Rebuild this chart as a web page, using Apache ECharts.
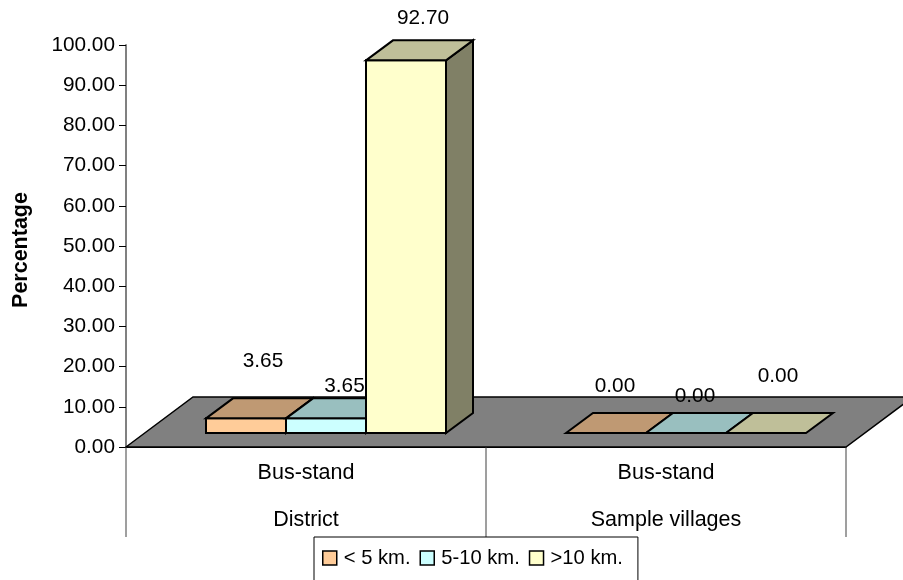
<!DOCTYPE html>
<html>
<head>
<meta charset="utf-8">
<style>
  html, body { margin: 0; padding: 0; background: #fff; }
  #main { width: 903px; height: 580px; }
</style>
<script src="https://cdn.jsdelivr.net/npm/echarts@6/dist/echarts.min.js"></script>
</head>
<body>
<div id="main"></div>
<script>
  // values
  const categories = ['Bus-stand', 'Bus-stand']
  const groups = ['District', 'Sample villages']
  const yTicks = [0, 100, 10]
  const near = [3.65, 0]
  const mid = [3.65, 0]
  const far = [92.7, 0]
  const seriesNames = ['< 5 km.', '5-10 km.', '>10 km.']

  const FONT = '"Liberation Sans", Arial, sans-serif'
  const TEXT = '#000'
  // fake 3d, all in pixels
  const FLOOR_DX = 67
  const FLOOR_DY = -50
  const BAR_W = 80
  const BAR_SHIFT_X = 20 // bars stand a bit into the floor
  const BAR_SHIFT_Y = -14
  const BAR_DX = 27
  const BAR_DY = -20
  // the data labels were dragged around by hand in the original: [series][category]
  const labelNudge = [
    [[3.5, -37], [-4.5, -27]],
    [[5, -12], [-4.5, -17]],
    [[3.5, -22], [-1.5, -37]]
  ]

  const fronts = ['#FFCC99', '#CCFFFF', '#FFFFCC']
  const tops = ['#BF9973', '#99BFBF', '#BFBF99']
  const sides = ['#806650', '#668080', '#808066']

  function poly(points, fill) {
    return {
      type: 'polygon',
      shape: { points: points },
      style: { fill: fill, stroke: '#000', lineWidth: 2, lineJoin: 'miter' }
    }
  }

  function renderBar(s, params, api) {
    const c = api.value(0)
    const v = api.value(1)
    const base = api.coord([c, 0])
    const top = api.coord([c, v])
    const xl = base[0] - 1.5 * BAR_W + s * BAR_W + BAR_SHIFT_X
    const xr = xl + BAR_W
    const y0 = base[1] + BAR_SHIFT_Y
    const y1 = top[1] + BAR_SHIFT_Y
    const children = []
    if (v > 0) {
      children.push(poly([[xr, y1], [xr + BAR_DX, y1 + BAR_DY], [xr + BAR_DX, y0 + BAR_DY], [xr, y0]], sides[s]))
      children.push(poly([[xl, y1], [xr, y1], [xr, y0], [xl, y0]], fronts[s]))
    }
    children.push(poly([[xl, y1], [xl + BAR_DX, y1 + BAR_DY], [xr + BAR_DX, y1 + BAR_DY], [xr, y1]], tops[s]))
    const nudge = labelNudge[s][c]
    children.push({
      type: 'text',
      style: {
        x: (xl + xr + BAR_DX) / 2 + nudge[0],
        y: y1 + BAR_DY + nudge[1],
        text: v.toFixed(2),
        font: '20.8px ' + FONT,
        fill: TEXT,
        align: 'center',
        verticalAlign: 'middle'
      }
    })
    return { type: 'group', children: children }
  }

  function renderFloor(params, api) {
    const a = api.coord([0, 0])
    const b = api.coord([1, 0])
    const band = api.size([1, 0])[0]
    const xl = a[0] - band / 2
    const xr = b[0] + band / 2
    const y = a[1]
    return {
      type: 'polygon',
      shape: { points: [[xl, y], [xl + FLOOR_DX, y + FLOOR_DY], [xr + FLOOR_DX, y + FLOOR_DY], [xr, y]] },
      style: { fill: '#808080', stroke: '#000', lineWidth: 1.5 }
    }
  }

  function barSeries(s, values) {
    return {
      name: seriesNames[s],
      type: 'custom',
      coordinateSystem: 'cartesian2d',
      clip: false,
      renderItem: function(params, api) { return renderBar(s, params, api) },
      encode: { x: 0, y: 1 },
      data: values.map((v, i) => [i, v]),
      itemStyle: { color: fronts[s], borderColor: '#000', borderWidth: 1.5 },
      z: 3
    }
  }

  const chart = echarts.init(document.getElementById('main'), null, { renderer: 'canvas' })
  chart.setOption({
    animation: false,
    backgroundColor: '#fff',
    textStyle: { fontFamily: FONT, color: TEXT },
    grid: { left: 126, right: 57, top: 45, bottom: 133 },
    legend: {
      left: 314,
      top: 537,
      itemWidth: 14,
      itemHeight: 14,
      itemGap: 9,
      padding: [11, 15, 30, 8],
      borderColor: '#000',
      borderWidth: 1,
      backgroundColor: '#fff',
      textStyle: { fontFamily: FONT, fontSize: 20.2, color: TEXT, padding: [0, 0, 0, 2] },
      data: seriesNames,
      icon: 'rect',
      itemStyle: { borderColor: '#000', borderWidth: 1.5 }
    },
    xAxis: {
      type: 'category',
      data: categories,
      axisLine: { lineStyle: { color: '#000', width: 1 } },
      axisTick: { show: true, length: 90, lineStyle: { color: '#808080', width: 1.5 } },
      axisLabel: {
        interval: 0,
        margin: 3,
        fontSize: 21.5,
        fontFamily: FONT,
        color: TEXT,
        lineHeight: 47,
        formatter: (v, i) => v + '\n' + groups[i]
      }
    },
    yAxis: {
      type: 'value',
      min: yTicks[0],
      max: yTicks[1],
      interval: yTicks[2],
      axisLine: { show: true, lineStyle: { color: '#808080', width: 2 } },
      axisTick: { show: true, length: 7, lineStyle: { color: '#000', width: 1 } },
      splitLine: { show: false },
      axisLabel: {
        fontSize: 20.8,
        fontFamily: FONT,
        color: TEXT,
        margin: 11,
        formatter: v => v.toFixed(2)
      },
      name: 'Percentage',
      nameLocation: 'middle',
      nameGap: 94,
      nameTextStyle: { fontFamily: FONT, fontSize: 21.5, fontWeight: 'bold', color: TEXT, padding: [0, 8, 0, 0] }
    },
    series: [
      {
        type: 'custom',
        coordinateSystem: 'cartesian2d',
        clip: false,
        silent: true,
        renderItem: renderFloor,
        encode: { x: 0, y: 1 },
        data: [[0, 0]],
        z: 2
      },
      barSeries(0, near),
      barSeries(1, mid),
      barSeries(2, far)
    ]
  })
</script>
</body>
</html>
